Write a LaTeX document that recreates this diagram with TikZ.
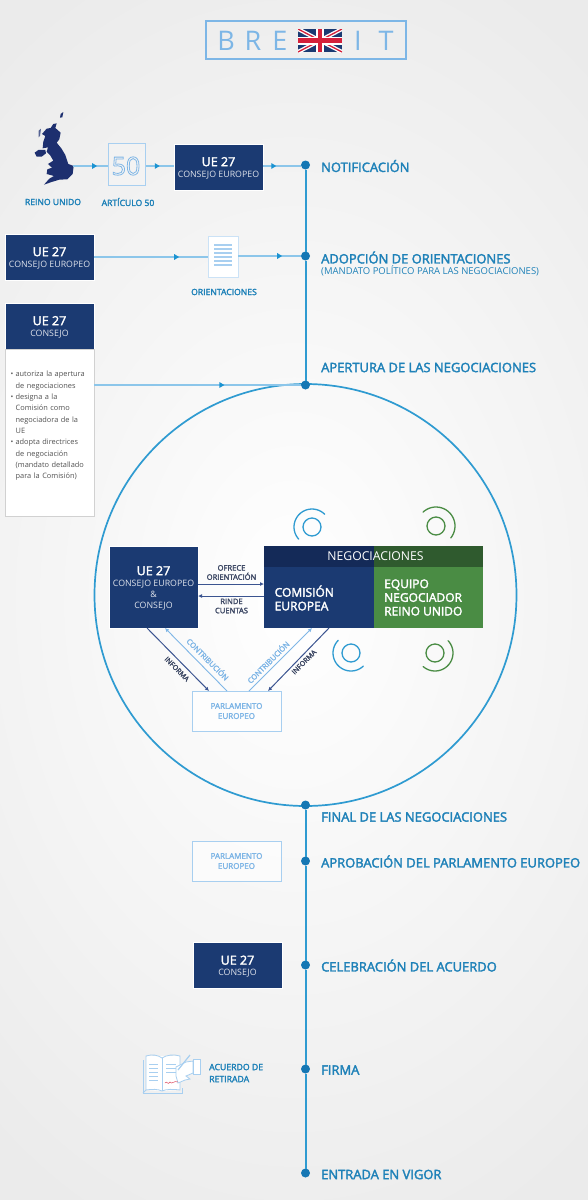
\documentclass[tikz,border=0pt]{standalone}
\usepackage{fontspec}
\setmainfont{Open Sans}[BoldFont={Open Sans},BoldFeatures={FakeBold=2.5}]
\usetikzlibrary{arrows.meta,decorations.markings,calc}
\definecolor{navy}{HTML}{1B3A72}
\definecolor{navyd}{HTML}{142A58}
\definecolor{grn}{HTML}{4A8C44}
\definecolor{grnd}{HTML}{2F5A2E}
\definecolor{spinec}{HTML}{2F9BD1}
\definecolor{dotc}{HTML}{1577B4}
\definecolor{thinc}{HTML}{8CC6EA}
\definecolor{tip}{HTML}{1B93D1}
\definecolor{lbl}{HTML}{1E81B8}
\definecolor{pale}{HTML}{A8CFF0}
\definecolor{palet}{HTML}{7FB6E6}
\definecolor{ttl}{HTML}{7DB6E6}
\definecolor{mapc}{HTML}{1D2F6F}
\definecolor{slate}{HTML}{3F4A66}
\definecolor{arr}{HTML}{3B5490}
\definecolor{ukred}{HTML}{D5203A}
\tikzset{
 x=1pt,y=-1pt,
 box/.style={inner sep=0pt,outer sep=0pt,align=center,anchor=center,text=white},
 navybox/.style={box,fill=navy,draw=white,line width=.5pt,minimum width=89pt,minimum height=46pt},
 parl/.style={box,fill=white,fill opacity=.6,text opacity=1,draw=pale,line width=1pt,minimum width=89pt,minimum height=40pt,text=palet,font=\fontsize{8}{10}\selectfont\bfseries},
 ttlL/.style={text=ttl,font=\fontsize{27}{30}\selectfont,inner sep=0pt},
 dotn/.style={circle,fill=dotc,minimum size=9pt,inner sep=0pt,outer sep=0pt},
 side/.style={anchor=west,inner sep=0pt,text=lbl,font=\fontsize{12.95}{14}\selectfont\bfseries},
 sm/.style={inner sep=0pt,text=lbl,font=\fontsize{8.6}{10}\selectfont\bfseries},
 thinl/.style={draw=thinc,line width=1.4pt},
 midarr/.style={postaction={decorate},decoration={markings,mark=at position #1 with {\arrow[tip]{Triangle[length=5pt,width=5.5pt]}}}},
 dk/.style={draw=arr,line width=1pt,-{Latex[length=4pt,width=4pt]}},
 lt/.style={draw=palet,line width=.9pt,-{Latex[length=4pt,width=4pt]}},
 smalld/.style={text=slate,inner sep=0pt,align=center,font=\fontsize{7.6}{9.2}\selectfont\bfseries},
 contr/.style={text=palet,inner sep=0pt,font=\fontsize{7.5}{9}\selectfont\bfseries},
}
\newcommand{\uehead}{{\rule{0pt}{11pt}\fontsize{12.5}{13}\selectfont\bfseries UE 27}}
\newcommand{\uesub}[1]{{\fontsize{8.8}{11}\selectfont\color{white!85!navy}#1}}
\newcommand{\uetwo}[1]{\uehead\\[-1pt]\uesub{#1}}
\newcommand{\headicon}[6]{%
 \draw[draw=#6,line width=1.3pt] (#1,#2) circle (9);
 \draw[draw=#6,line width=1.3pt,line cap=round] plot[smooth,domain=#3:#4,samples=24] ({#1+#5*cos(\x)},{#2-#5*sin(\x)});
}
\begin{document}
\begin{tikzpicture}
\useasboundingbox (0,0) rectangle (587,1200);
\shade[inner color=white,middle color=white!97!black,outer color=white!92!black] (-200,-100) rectangle (787,1300);
% title
\node[draw=ttl,line width=1.1pt,minimum width=200pt,minimum height=38pt,inner sep=0pt] (title) at (306,40) {};
\node[ttlL] (tb) at (226,40.5) {B};
\node[ttlL] (tr) at (253,40.5) {R};
\node[ttlL] (te) at (280,40.5) {E};
\node[ttlL] (ti) at (358,40.5) {I};
\node[ttlL] (tt) at (386,40.5) {T};
\begin{scope}
 \clip (298,29) rectangle (342,52);
 \fill[navy] (298,29) rectangle (342,52);
 \draw[white,line width=4pt] (298,29) -- (342,52) (298,52) -- (342,29);
 \draw[ukred,line width=1.3pt] (298,29) -- (342,52) (298,52) -- (342,29);
 \draw[white,line width=8pt] (320,29) -- (320,52) (298,40.5) -- (342,40.5);
 \draw[ukred,line width=4.6pt] (320,29) -- (320,52) (298,40.5) -- (342,40.5);
\end{scope}
% UK map
\begin{scope}[shift={(20,100)},x=.3333pt,y=-.3333pt]
 \fill[mapc] (100,72) -- (110,70) -- (106,84) -- (122,98) -- (118,118) -- (110,128) -- (124,145) -- (136,165) -- (145,192) -- (161,198) -- (158,222) -- (142,238) -- (118,239) -- (95,246) -- (72,254) -- (88,236) -- (102,228) -- (80,222) -- (82,208) -- (96,203) -- (84,192) -- (100,182) -- (90,165) -- (80,155) -- (84,142) -- (68,145) -- (70,125) -- (76,108) -- (66,102) -- (80,86) -- (92,84) -- cycle;
 \fill[mapc] (44,158) -- (55,150) -- (76,150) -- (78,160) -- (65,170) -- (50,170) -- cycle;
 \fill[mapc] (122,42) -- (130,36) -- (127,52) -- (120,53) -- cycle;
 \fill[mapc!75!white] (56,92) -- (63,86) -- (60,108) -- (56,112) -- cycle;
\end{scope}
\coordinate (ukmap) at (73,166);
\node[sm] (lru) at (53,202) {REINO UNIDO};
\node[sm] (la5) at (128,202) {ARTÍCULO 50};
% article 50
\node[draw=pale,fill=white,fill opacity=.15,line width=1pt,minimum width=37pt,minimum height=42pt,inner sep=0pt] (art) at (126.5,164) {};
\node[inner sep=0pt,text=palet,font=\fontsize{25}{28}\selectfont] (art5) at (126,166) {\special{pdf:literal direct 1 Tr 0.8 w}50\special{pdf:literal direct 0 Tr 1 w}};
% row boxes
\node[navybox] (ue1) at (218.5,167) {\uetwo{CONSEJO EUROPEO}};
\node[navybox] (ue2) at (49.5,257) {\uetwo{CONSEJO EUROPEO}};
\node[navybox] (ue3) at (49.5,326) {\uetwo{CONSEJO}};
\node[box,fill=white,draw=black!18,line width=.8pt,minimum width=89pt,minimum height=167pt] (list) at (49.5,432.5) {};
\node[anchor=north west,inner sep=0pt,align=left,text=black!68,text width=84pt,font=\fontsize{7.4}{11.33}\selectfont] (listt) at (10.5,371) {%
 \textbullet\hspace{2.1pt}autoriza la apertura\\\hspace*{5pt}de negociaciones\\
 \textbullet\hspace{2.1pt}designa a la\\\hspace*{5pt}Comisión como\\\hspace*{5pt}negociadora de la\\\hspace*{5pt}UE\\
 \textbullet\hspace{2.1pt}adopta directrices\\\hspace*{5pt}de negociación\\\hspace*{5pt}(mandato detallado\\\hspace*{5pt}para la Comisión)};
% document
\node[draw=pale!60!white,fill=white,line width=.8pt,minimum width=30pt,minimum height=41pt,inner sep=0pt] (doc) at (223,256.5) {};
\foreach \yy in {245,249,253,257,261,265}{\draw[draw=pale,line width=1.2pt] (214,\yy) -- (232,\yy);}
\node[sm] (lori) at (224,292) {ORIENTACIONES};
% circle
\node[draw=spinec,line width=1.7pt,circle,minimum size=422pt,inner sep=0pt] (big) at (305.5,595) {};
% dots
\foreach \n/\yy in {d1/165,d2/256,d3/385,d4/805,d5/861,d6/965,d7/1069,d8/1173}{\node[dotn] (\n) at (305.5,\yy) {};}
% spine
\foreach \pa/\pb in {d1/d2,d2/d3,d4/d5,d5/d6,d6/d7,d7/d8}{\draw[draw=spinec,line width=2pt] (\pa) -- (\pb);}
% row connectors
\draw[thinl,midarr=.7] (ukmap) -- (art.west |- ukmap);
\draw[thinl,midarr=.5] (art.east |- ukmap) -- (ue1.west |- ukmap);
\draw[thinl,midarr=.35] (ue1.east |- ukmap) -- (d1.west |- ukmap);
\draw[thinl,midarr=.75] (ue2.east) -- (doc.west |- ue2.east);
\draw[thinl,midarr=.7] (doc.east |- d2) -- (d2);
\draw[thinl,midarr=.63] (list.east |- d3) -- (d3);
% spine labels
\node[side] (s1) at (321,166) {NOTIFICACIÓN};
\node[side] (s2) at (321,257.5) {ADOPCIÓN DE ORIENTACIONES};
\node[anchor=west,inner sep=0pt,text=lbl,font=\fontsize{9.5}{10}\selectfont] (s2b) at (321,270.5) {(MANDATO POLÍTICO PARA LAS NEGOCIACIONES)};
\node[side] (s3) at (321,367.5) {APERTURA DE LAS NEGOCIACIONES};
\node[side] (s4) at (321,817) {FINAL DE LAS NEGOCIACIONES};
\node[side] (s5) at (321,861.5) {APROBACIÓN DEL PARLAMENTO EUROPEO};
\node[side] (s6) at (321,965.5) {CELEBRACIÓN DEL ACUERDO};
\node[side] (s7) at (321,1070) {FIRMA};
\node[side] (s8) at (321,1174.5) {ENTRADA EN VIGOR};
% central
\node[box,fill=navy,draw=white,line width=.5pt,minimum width=89pt,minimum height=82pt] (uec) at (153.5,587) {\uehead\\[-1pt]\uesub{CONSEJO EUROPEO}\\[-1pt]\uesub{\&}\\[-1pt]\uesub{CONSEJO}};
\node[box,fill=navy,minimum width=110pt,minimum height=61pt,draw=none] (com) at (319,597.5) {};
\node[box,fill=grn,minimum width=109pt,minimum height=61pt,draw=none] (equ) at (428.5,597.5) {};
\node[box,fill=navyd,minimum width=110pt,minimum height=21pt] (hl) at (319,556.5) {};
\node[box,fill=grnd,minimum width=109pt,minimum height=21pt] (hr) at (428.5,556.5) {};
\node[inner sep=0pt,text=white,font=\fontsize{12.2}{13}\selectfont] (neg) at (375.5,556.5) {NEGOCIACIONES};
\node[anchor=west,inner sep=0pt,align=left,text=white,font=\fontsize{12}{13.7}\selectfont\bfseries] (comt) at (274.5,598) {COMISIÓN\\EUROPEA};
\node[anchor=west,inner sep=0pt,align=left,text=white,font=\fontsize{12}{13.7}\selectfont\bfseries] (equt) at (384,597.5) {EQUIPO\\NEGOCIADOR\\REINO UNIDO};
\coordinate (ya) at (0,584);
\coordinate (yb) at (0,596);
\draw[dk] (uec.east |- ya) -- (com.west |- ya);
\draw[dk] (com.west |- yb) -- (uec.east |- yb);
\node[smalld] (of) at (231.5,572.5) {OFRECE\\ORIENTACIÓN};
\node[smalld] (ri) at (231.5,606) {RINDE\\CUENTAS};
\node[parl] (pe1) at (236.5,711) {PARLAMENTO\\EUROPEO};
\node[parl] (pe2) at (236.5,861) {PARLAMENTO\\EUROPEO};
\coordinate (a1) at (147,628);
\coordinate (a2) at (209,691);
\coordinate (b1) at (165,628);
\coordinate (b2) at (227,691);
\coordinate (c1a) at (312,628);
\coordinate (c2a) at (249,691);
\coordinate (e1) at (329,628);
\coordinate (e2) at (268,691);
\draw[dk] (a1) -- (a2);
\draw[lt] (b2) -- (b1);
\draw[lt] (c2a) -- (c1a);
\draw[dk] (e1) -- (e2);
\node[smalld,rotate=-45,font=\fontsize{7}{9}\selectfont\bfseries] (i1) at (177,669) {INFORMA};
\node[contr,rotate=-45] (c1) at (208,659) {CONTRIBUCIÓN};
\node[contr,rotate=45] (c2) at (268,662) {CONTRIBUCIÓN};
\node[smalld,rotate=45,font=\fontsize{7}{9}\selectfont\bfseries] (i2) at (304,662) {INFORMA};
\headicon{312}{527}{45}{222}{18}{spinec}
\headicon{436}{526}{-39}{133}{19}{grn}
\headicon{351}{653}{135}{313}{18}{spinec}
\headicon{435}{653}{229}{403}{18}{grn}
% lower
\node[navybox] (ue4) at (237.5,965.5) {\uetwo{CONSEJO}};
\node[anchor=west,inner sep=0pt,align=left,text=lbl,font=\fontsize{8.7}{12}\selectfont\bfseries] (acu) at (209,1073) {ACUERDO DE\\RETIRADA};
% book icon
\begin{scope}[line width=.8pt]
 \fill[white] (146,1056) -- (162,1056) -- (162,1091) -- (146,1090) -- cycle;
 \fill[white] (162,1056) -- (180,1056) -- (180,1090) -- (162,1091) -- cycle;
 \draw[draw=pale] (146,1056) .. controls (152,1054) and (158,1055) .. (162,1058) .. controls (166,1055) and (174,1054) .. (180,1056) -- (180,1090) .. controls (174,1089) and (166,1089) .. (162,1091) .. controls (158,1089) and (152,1089) .. (146,1090) -- cycle;
 \draw[draw=pale] (162,1058) -- (162,1091);
 \draw[draw=pale] (143,1060) -- (143,1093) -- (182,1093) -- (182,1088);
 \draw[draw=pale] (143,1093) -- (146,1090);
 \foreach \yy in {1064,1068,1072,1076,1080}{\draw[draw=pale] (149,\yy) -- (158,\yy);}
 \foreach \yy in {1064,1068,1072}{\draw[draw=pale] (166,\yy) -- (176,\yy);}
 \filldraw[draw=pale,fill=white] (176,1067) -- (186,1062) -- (193,1061) -- (193,1073) -- (186,1076) -- (190,1079) -- (185,1080) -- (178,1083) -- (176,1076) -- cycle;
 \filldraw[draw=pale,fill=white] (193,1059) rectangle (200,1074);
 \draw[draw=pale,line width=1.2pt] (178,1070) -- (190,1055);
\end{scope}
\draw[draw=ukred!80!white,line width=.5pt] (165,1083) .. controls (167,1080) and (168,1086) .. (170,1082) .. controls (172,1085) and (174,1080) .. (178,1082);
\end{tikzpicture}
\end{document}
